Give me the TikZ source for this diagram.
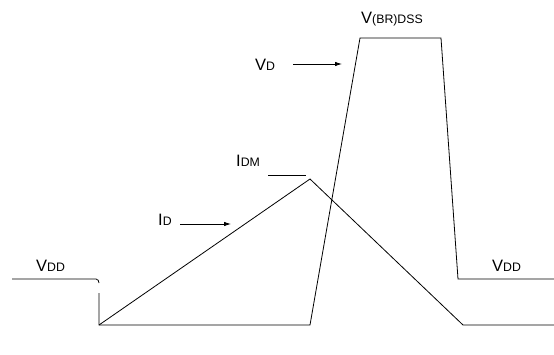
\documentclass[tikz,border=0pt]{standalone}
\usepackage{fontspec}
\setmainfont{Liberation Sans}
\usetikzlibrary{arrows.meta}

\newcommand{\biglt}[1]{{\fontsize{16.5}{16.5}\selectfont #1}}
\newcommand{\smalllt}[1]{{\fontsize{12.3}{12.3}\selectfont #1}}

\tikzset{
  wave/.style={line width=0.8pt},
  lbl/.style={inner sep=0pt, anchor=base west},
  arr/.style={line width=0.8pt, -{Latex[length=7pt,width=4.5pt]}}
}

\begin{document}
\begin{tikzpicture}[x=1pt,y=-1pt]
\useasboundingbox (0,0) rectangle (554,354);
% waveform corners
\coordinate (a0) at (12,279);
\coordinate (a1) at (99,293);
\coordinate (base) at (99,325);
\coordinate (rise) at (310,325);
\coordinate (topl) at (360,38);
\coordinate (topr) at (441,38);
\coordinate (fall) at (458,279);
\coordinate (a2) at (554,279);
\coordinate (peak) at (310,179);
\coordinate (low) at (463,325);
\coordinate (a3) at (554,325);
% V_D
\draw[wave] (a0) -- (96,279) to[out=0,in=90] (99,283);
\draw[wave] (a1) -- (base) -- (rise) -- (topl) -- (topr) -- (fall) -- (a2);
% I_D
\draw[wave] (base) -- (peak) -- (low) -- (a3);
\draw[wave] (268,175) -- (306,175);
% labels
\node[lbl] (vddl) at (36,271) {\biglt{V}\smalllt{DD}};
\node[lbl] (vddr) at (492,271) {\biglt{V}\smalllt{DD}};
\node[lbl] (vbr) at (361,23) {\biglt{V}\smalllt{(BR)DSS}};
\node[lbl] (idm) at (236,166) {\biglt{I}\smalllt{DM}};
\node[lbl] (idl) at (158,225) {\biglt{I}\smalllt{D}};
\node[lbl] (vdl) at (255,70) {\biglt{V}\smalllt{D}};
% pointers
\coordinate (idfrom) at (180,224);
\coordinate (idto) at (231,224);
\coordinate (vdfrom) at (293,64);
\coordinate (vdto) at (342,64);
\draw[arr] (idfrom) -- (idto);
\draw[arr] (vdfrom) -- (vdto);
\end{tikzpicture}
\end{document}
